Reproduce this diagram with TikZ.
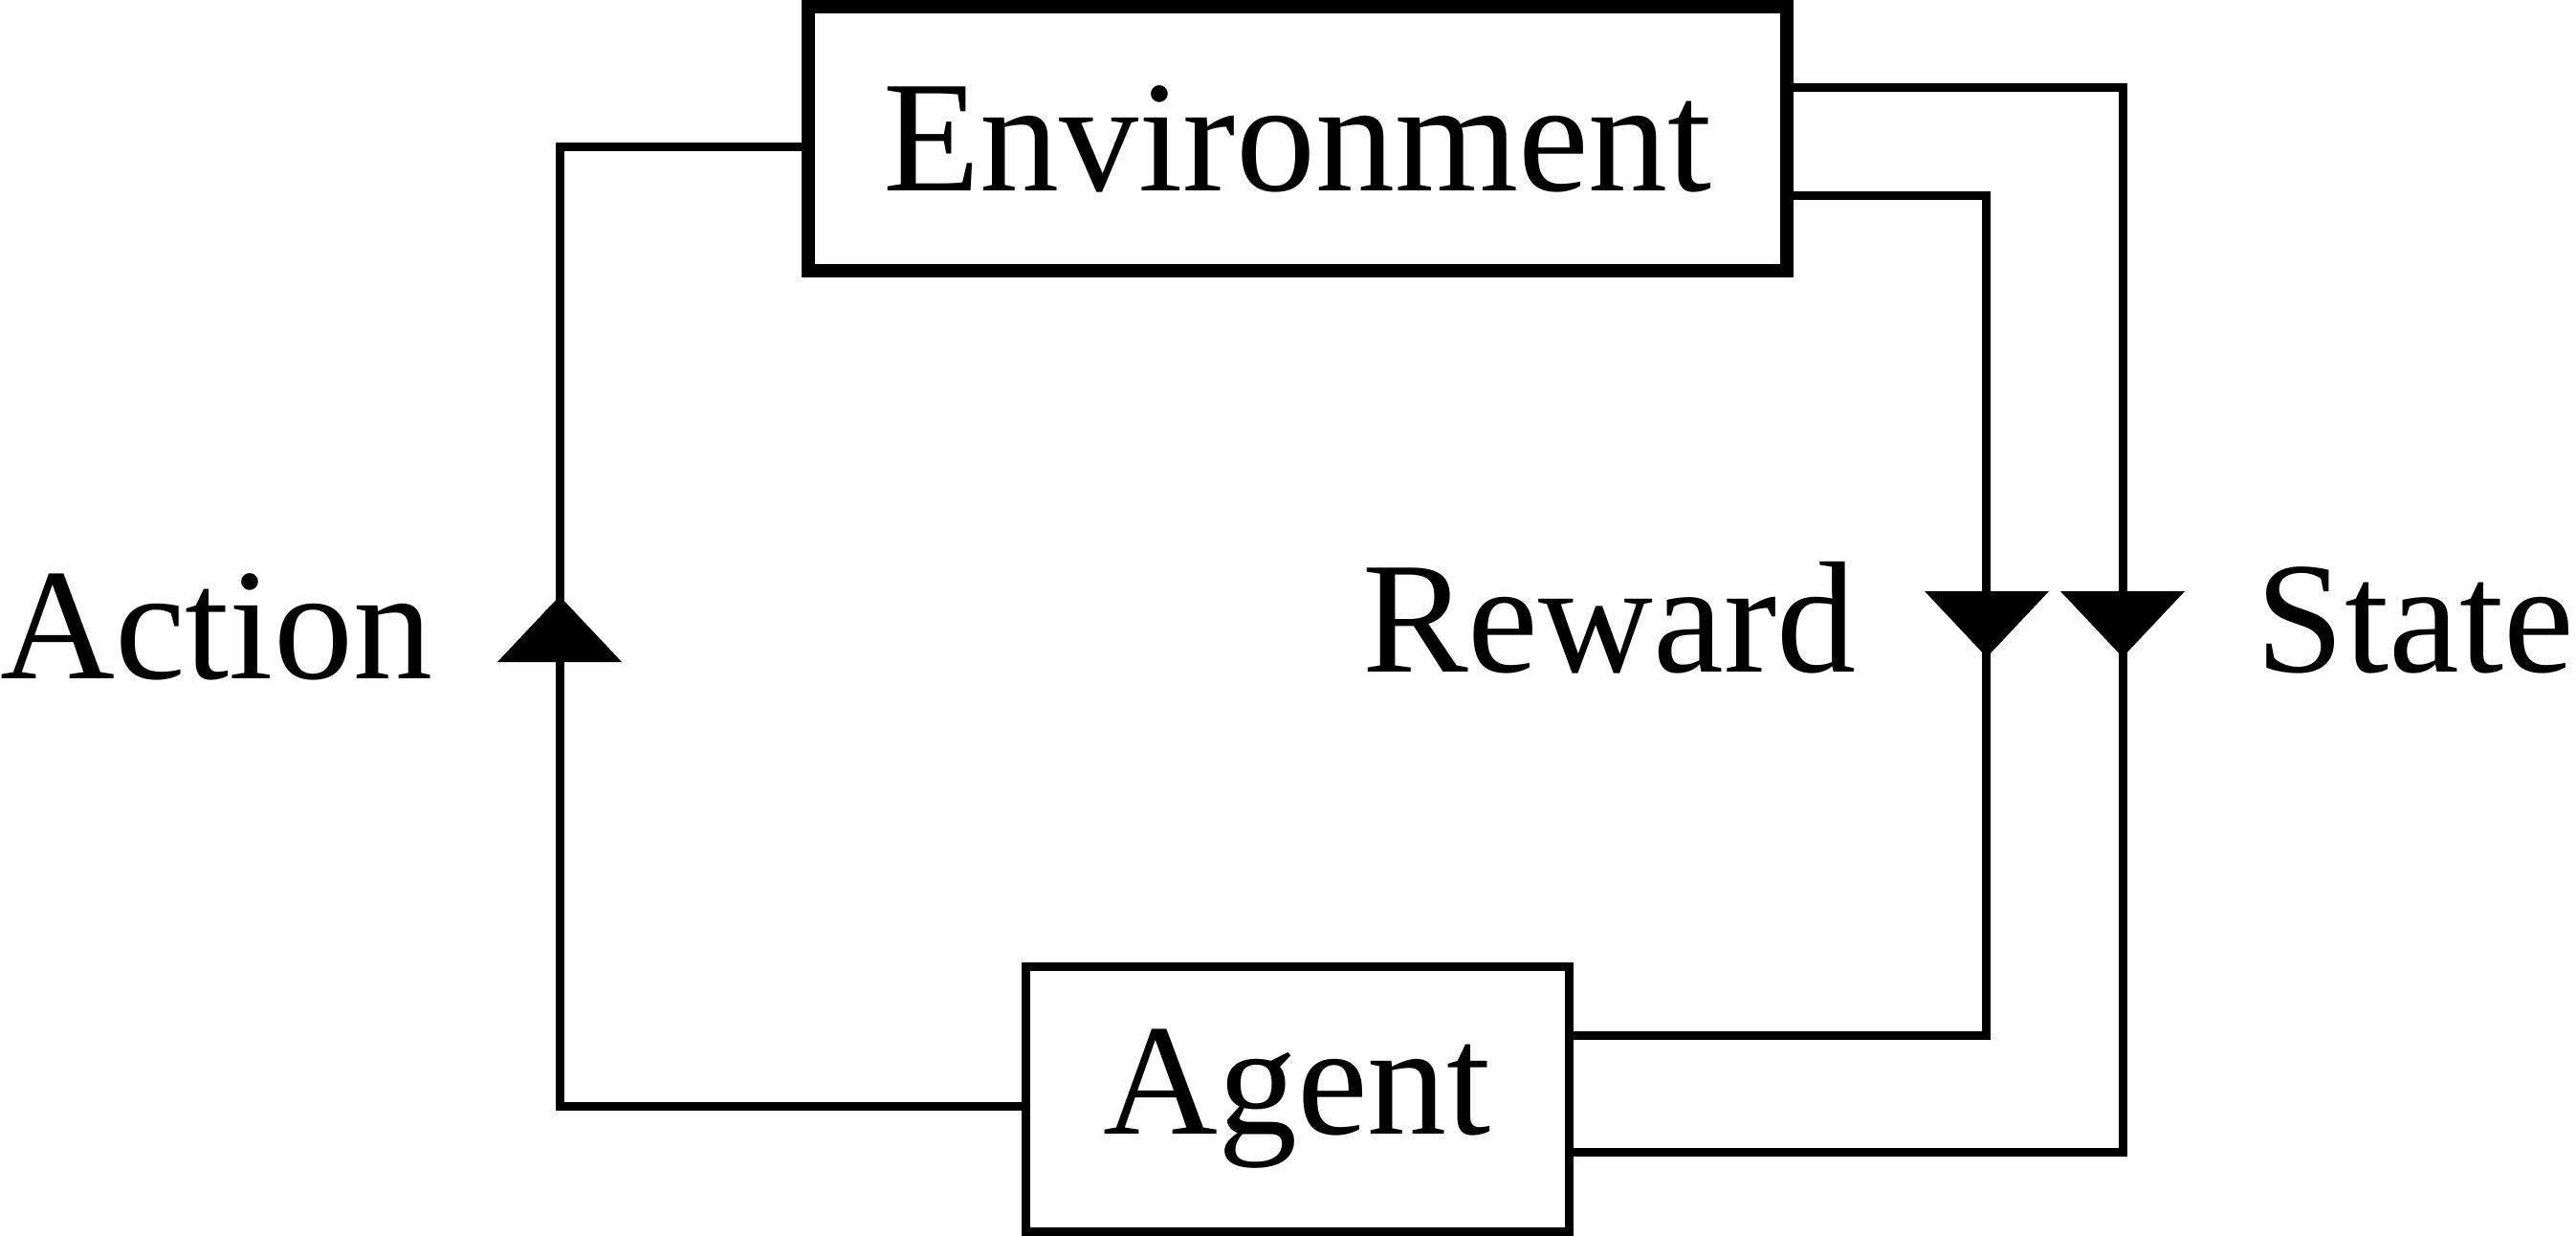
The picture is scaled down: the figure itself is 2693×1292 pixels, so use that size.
\documentclass[tikz,border=0pt]{standalone}
\usepackage{fontspec}
\setmainfont{Liberation Serif}
\begin{document}
\begin{tikzpicture}[x=1pt,y=-1pt,
  lbl/.style={font=\fontsize{166}{166}\selectfont, inner sep=0pt},
  envbox/.style={draw, line width=14pt, inner sep=0pt, minimum width=1023pt, minimum height=276pt, font=\fontsize{166}{166}\selectfont},
  agbox/.style={draw, line width=9pt, inner sep=0pt, minimum width=568pt, minimum height=277pt, font=\fontsize{166}{166}\selectfont},
  wire/.style={line width=9pt, line join=miter},
  tri/.style={fill=black}]
\useasboundingbox (0,0) rectangle (2693,1292);
\node[envbox] (env) at (1356.5,145) {Environment};
\node[agbox] (ag) at (1356,1148.5) {Agent};
\node[lbl, anchor=base west] (act) at (0,709) {Action};
\node[lbl, anchor=base west] (rew) at (1424,702) {Reward};
\node[lbl, anchor=base east] (st) at (2691,702) {State};
\coordinate (a1) at (585,1156);
\coordinate (a2) at (585,154);
\coordinate (r1) at (2076,204.5);
\coordinate (r2) at (2076,1082);
\coordinate (s1) at (2219,91.5);
\coordinate (s2) at (2219,1204);
\draw[wire] (ag.west |- a1) -- (a1) -- (a2) -- (env.west |- a2);
\draw[wire] (env.east |- r1) -- (r1) -- (r2) -- (ag.east |- r2);
\draw[wire] (env.east |- s1) -- (s1) -- (s2) -- (ag.east |- s2);
\fill[tri] (585,623) -- (520,692) -- (650,692) -- cycle;
\fill[tri] (2077,687) -- (2012,618) -- (2142,618) -- cycle;
\fill[tri] (2219,687) -- (2154,618) -- (2284,618) -- cycle;
\end{tikzpicture}
\end{document}
